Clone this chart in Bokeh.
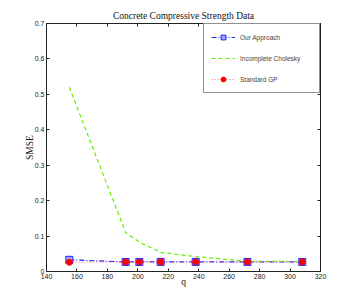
from bokeh.plotting import figure
from bokeh.models import LinearAxis, FixedTicker, Legend, LegendItem, Range1d
from bokeh.embed import file_html
from bokeh.resources import INLINE

q = [155, 192, 201, 215, 238, 272, 308]
our_approach = [0.033, 0.027, 0.027, 0.027, 0.027, 0.027, 0.027]
incomplete_cholesky = [0.52, 0.11, 0.083, 0.054, 0.042, 0.029, 0.028]
standard_gp = [0.026, 0.027, 0.027, 0.027, 0.027, 0.027, 0.027]

x_ticks = [140, 160, 180, 200, 220, 240, 260, 280, 300, 320]
y_ticks = [0, 0.1, 0.2, 0.3, 0.4, 0.5, 0.6, 0.7]
y_tick_labels = ["0", "0.1", "0.2", "0.3", "0.4", "0.5", "0.6", "0.7"]

TICK_FONT = "Liberation Sans"
SERIF = "Liberation Serif"

p = figure(frame_width=274, frame_height=248,
           x_range=Range1d(140, 320), y_range=Range1d(0, 0.7),
           output_backend="svg", toolbar_location=None,
           title="Concrete Compressive Strength Data",
           min_border_left=46, min_border_right=24,
           min_border_top=23, min_border_bottom=26,
           background_fill_color="white", border_fill_color="white")

p.title.text_font = SERIF
p.title.text_font_size = "9.5px"
p.title.text_font_style = "normal"
p.title.text_color = "#111111"
p.title.align = "center"
p.title.standoff = 5
p.title.offset = 0

p.xgrid.visible = False
p.ygrid.visible = False
p.outline_line_color = "#222222"
p.outline_line_width = 1

def style_axis(ax, show_labels=True):
    ax.major_tick_in = 3
    ax.major_tick_out = 0
    ax.minor_tick_in = 0
    ax.minor_tick_out = 0
    ax.axis_line_color = "#222222"
    ax.major_tick_line_color = "#222222"
    ax.major_label_text_font = TICK_FONT
    ax.major_label_text_font_size = "7px"
    ax.major_label_text_color = "#222222"
    ax.major_label_standoff = 2 if show_labels else 0
    ax.axis_label_text_font = SERIF
    ax.axis_label_text_font_size = "9.5px"
    ax.axis_label_text_font_style = "normal"
    ax.axis_label_text_color = "#111111"
    ax.axis_label_standoff = 0

xax = p.xaxis[0]
yax = p.yaxis[0]
xax.ticker = FixedTicker(ticks=x_ticks)
yax.ticker = FixedTicker(ticks=y_ticks)
yax.major_label_overrides = {t: l for t, l in zip(y_ticks, y_tick_labels)}
xax.axis_label = "q"
yax.axis_label = "SMSE"
style_axis(xax)
style_axis(yax)
xax.axis_label_standoff = -5
yax.axis_label_standoff = -3

top = LinearAxis(ticker=FixedTicker(ticks=x_ticks))
right = LinearAxis(ticker=FixedTicker(ticks=y_ticks))
style_axis(top, False)
style_axis(right, False)
for ax, ticks in ((top, x_ticks), (right, y_ticks)):
    ax.major_label_text_alpha = 0
    ax.major_label_text_font_size = "1px"
    ax.major_label_overrides = {t: "" for t in ticks}
p.add_layout(top, "above")
p.add_layout(right, "right")

blue = "#2020ff"
green = "#66ee00"
red = "#ff0000"

l1 = p.line(q, our_approach, line_color=blue, line_width=1.2, line_dash="5 2 1 2")
m1 = p.scatter(q, our_approach, marker="square", size=7, line_color=blue,
               fill_color="#99aaff", line_width=1)
l2 = p.line(q, incomplete_cholesky, line_color=green, line_width=1.2, line_dash="4 3")
l3 = p.line(q, standard_gp, line_color="#ff7070", line_width=1, line_dash="1 2")
m3 = p.scatter(q, standard_gp, marker="circle", size=6, line_color=red, fill_color=red)

legend = Legend(items=[
    LegendItem(label="Our Approach", renderers=[l1, m1]),
    LegendItem(label="Incomplete Cholesky", renderers=[l2]),
    LegendItem(label="Standard GP", renderers=[l3, m3]),
], location="top_right")
legend.margin = 0
legend.padding = 7
legend.spacing = 9
legend.glyph_width = 24
legend.glyph_height = 12
legend.label_height = 12
legend.label_width = 72
legend.label_standoff = 5
legend.label_text_font = TICK_FONT
legend.label_text_font_size = "6.5px"
legend.border_line_color = "#222222"
legend.border_line_width = 1
legend.background_fill_color = "white"
legend.background_fill_alpha = 1
p.add_layout(legend)

open("out.html", "w").write(file_html(p, INLINE))
